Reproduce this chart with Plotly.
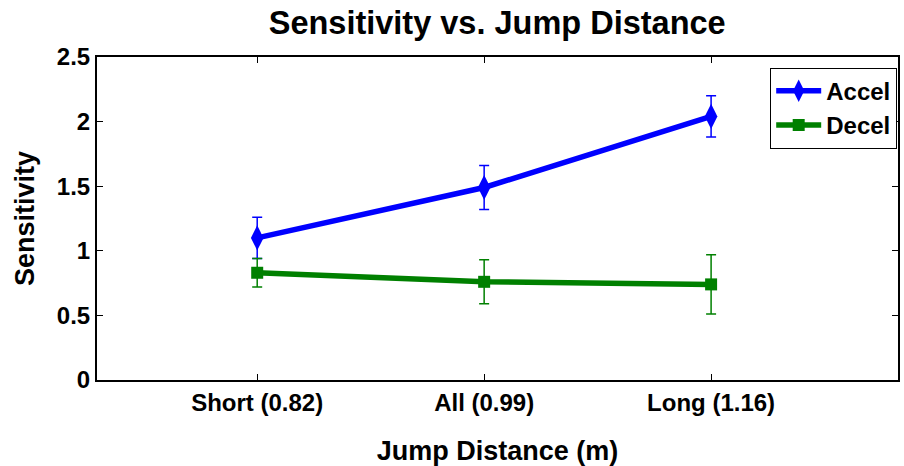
import plotly.graph_objects as go

categories = ["Short (0.82)", "All (0.99)", "Long (1.16)"]
x_pos = [0.82, 0.99, 1.16]
accel = [1.10, 1.49, 2.04]
accel_err = [0.16, 0.17, 0.16]
decel = [0.83, 0.76, 0.74]
decel_err = [0.11, 0.17, 0.23]

FONT = "Liberation Sans, Arial, sans-serif"

fig = go.Figure()
fig.add_trace(go.Scatter(
    x=x_pos, y=accel, name="<b>Accel</b>", mode="lines+markers",
    line=dict(color="#0000ff", width=5.5),
    marker=dict(symbol="diamond-tall", size=18, color="#0000ff"),
    error_y=dict(type="data", array=accel_err, color="#0000ff", thickness=1.5, width=5),
))
fig.add_trace(go.Scatter(
    x=x_pos, y=decel, name="<b>Decel</b>", mode="lines+markers",
    line=dict(color="#008000", width=5.5),
    marker=dict(symbol="square", size=12, color="#008000"),
    error_y=dict(type="data", array=decel_err, color="#008000", thickness=1.5, width=5),
))

axis_common = dict(showline=True, linecolor="black", linewidth=2, mirror="ticks",
                   ticks="inside", ticklen=6, tickcolor="black", showgrid=False,
                   zeroline=False, automargin=False,
                   tickfont=dict(family=FONT, size=24, color="black"))

fig.update_layout(
    width=904, height=466,
    margin=dict(l=97, r=6, t=57, b=86),
    plot_bgcolor="white", paper_bgcolor="white",
    title=dict(text="<b>Sensitivity vs. Jump Distance</b>", x=0.55, xanchor="center",
               y=0.952, yanchor="middle", font=dict(family=FONT, size=32.5, color="black")),
    xaxis=dict(range=[0.7, 1.3], tickvals=x_pos,
               ticktext=["<b>%s</b>" % c for c in categories],
               title=dict(text="<b>Jump Distance (m)</b>", standoff=28,
                          font=dict(family=FONT, size=27, color="black")),
               **axis_common),
    yaxis=dict(range=[0, 2.5], tickvals=[0, 0.5, 1, 1.5, 2, 2.5],
               ticktext=["<b>0</b>", "<b>0.5</b>", "<b>1</b>", "<b>1.5</b>", "<b>2</b>", "<b>2.5</b>"],
               title=dict(text="<b>Sensitivity</b>", standoff=14,
                          font=dict(family=FONT, size=27, color="black")),
               **axis_common),
    legend=dict(x=0.999, xanchor="right", y=0.967, yanchor="top",
                bordercolor="black", borderwidth=1, bgcolor="white",
                font=dict(family=FONT, size=24, color="black"),
                itemwidth=45, tracegroupgap=0),
    showlegend=True,
)

fig.write_html("out.html")
